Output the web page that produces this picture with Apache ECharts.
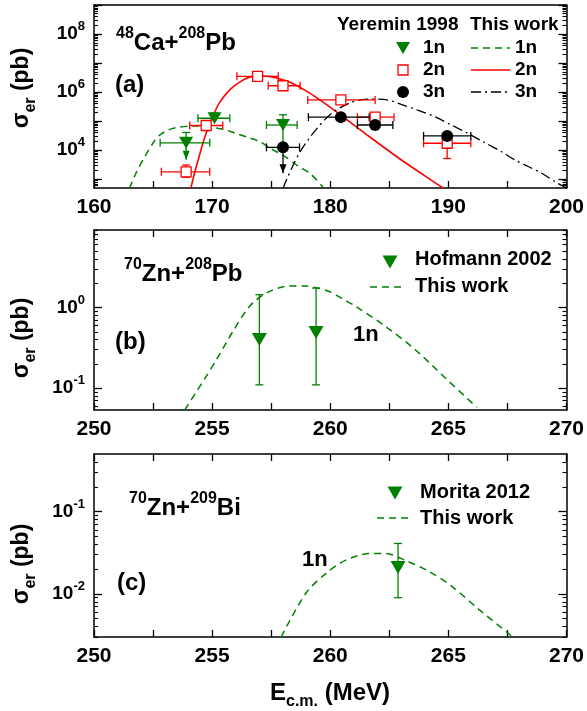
<!DOCTYPE html>
<html lang="en">
<head>
<meta charset="UTF-8">
<title>sigma_er vs Ec.m.</title>
<script src="https://cdn.jsdelivr.net/npm/echarts@6/dist/echarts.min.js"></script>
<style>
  html, body { margin: 0; padding: 0; background: #fff; }
  #main { width: 587px; height: 711px; }
</style>
</head>
<body>
<div id="main"></div>
<script>
// ---------- (a) 48Ca+208Pb : Yeremin 1998 (pb) ----------
var yer1nE    = [167.8, 170.2, 176.0];
var yer1nS    = [1.8e4, 1.26e5, 7.4e4];
var yer1nELo  = [165.6, 168.8, 174.6];
var yer1nEHi  = [169.8, 171.5, 177.2];
var yer1nSLo  = [4.7e3, 1.26e5, 1.26e4];
var yer1nSHi  = [4.1e4, 1.9e5, 1.66e5];
var yer1nArr  = [1, 0, 0];

var yer2nE    = [167.8, 169.5, 173.85, 176.0, 180.9, 183.8, 189.9];
var yer2nS    = [1.8e3, 7.1e4, 3.5e6, 1.66e6, 5.4e5, 1.38e5, 1.74e4];
var yer2nELo  = [165.7, 168.1, 172.1, 174.75, 178.1, 182.3, 187.9];
var yer2nEHi  = [169.8, 170.9, 175.6, 177.45, 183.8, 185.4, 191.9];
var yer2nSLo  = [1.17e3, 6.0e4, 3.2e6, 1.4e6, 4.6e5, 1.17e5, 5.2e3];
var yer2nSHi  = [3.1e3, 8.3e4, 3.8e6, 1.95e6, 6.3e5, 1.62e5, 3.4e4];

var yer3nE    = [176.0, 180.9, 183.8, 189.9];
var yer3nS    = [1.26e4, 1.38e5, 7.4e4, 3.1e4];
var yer3nELo  = [174.6, 178.15, 182.3, 187.9];
var yer3nEHi  = [177.4, 183.3, 185.3, 191.9];
var yer3nSLo  = [1.6e3, 1.38e5, 7.4e4, 3.1e4];
var yer3nSHi  = [1.26e4, 1.38e5, 7.4e4, 3.1e4];
var yer3nArr  = [1, 0, 0, 0];

// this work, (a)
var cal1nE = [163.0, 163.6, 164.3, 165.0, 165.5, 166.2, 167.0, 168.4, 169.8, 171.0, 172.0, 173.0, 174.0, 175.0, 176.3, 177.3, 178.3, 179.4];
var cal1nS = [490, 1780, 6000, 1.78e4, 3.16e4, 4.8e4, 6.0e4, 6.9e4, 6.3e4, 5.2e4, 3.8e4, 2.8e4, 2.0e4, 1.12e4, 5.6e3, 2.8e3, 1.58e3, 525];
var cal2nE = [168.2, 168.5, 168.9, 169.3, 169.8, 170.2, 170.6, 171.2, 171.8, 172.4, 172.9, 173.5, 174.0, 174.8, 175.5, 176.2, 176.9, 177.8, 178.6, 180.3, 183.1, 186.0, 189.6];
var cal2nS = [490, 1580, 6000, 2.24e4, 8.5e4, 2.0e5, 4.2e5, 8.9e5, 1.55e6, 2.3e6, 3.0e6, 3.5e6, 3.6e6, 3.5e6, 3.0e6, 2.5e6, 1.9e6, 1.2e6, 7.6e5, 2.45e5, 3.4e4, 4.7e3, 490];
var cal3nE = [176.0, 176.7, 177.45, 178.2, 178.9, 179.6, 180.3, 181.0, 181.8, 182.6, 183.4, 184.5, 185.3, 186.0, 187.4, 188.8, 190.2, 191.6, 193.0, 194.5, 195.6, 196.8, 197.9, 199.3, 200.0];
var cal3nS = [490, 2240, 8900, 2.5e4, 5.75e4, 1.2e5, 2.14e5, 3.16e5, 4.5e5, 5.4e5, 5.75e5, 5.6e5, 4.8e5, 3.8e5, 2.4e5, 1.45e5, 7.6e4, 3.9e4, 1.9e4, 8.9e3, 4.7e3, 2.7e3, 1.62e3, 710, 500];

// ---------- (b) 70Zn+208Pb : Hofmann 2002 ----------
var hofE   = [257.0, 259.4];
var hofS   = [0.40, 0.49];
var hofSLo = [0.11, 0.11];
var hofSHi = [1.44, 1.74];
var calBE = [253.84, 254.75, 255.18, 255.88, 256.58, 257.29, 258.2, 258.9, 259.4, 259.96, 260.5, 261.08, 262.35, 263.6, 264.88, 266.2];
var calBS = [0.054, 0.14, 0.225, 0.505, 1.03, 1.51, 1.84, 1.85, 1.76, 1.58, 1.29, 1.03, 0.58, 0.30, 0.133, 0.058];

// ---------- (c) 70Zn+209Bi : Morita 2012 ----------
var morE   = [262.87];
var morS   = [0.021];
var morSLo = [0.009];
var morSHi = [0.041];
var calCE = [257.92, 258.97, 259.82, 260.66, 261.65, 262.35, 263.2, 264.2, 265.16, 266.29, 267.55, 267.75];
var calCS = [0.0030, 0.0102, 0.0178, 0.0257, 0.0309, 0.0309, 0.0254, 0.0186, 0.0123, 0.0065, 0.0033, 0.00295];

var FONT = '"Liberation Sans", Arial, sans-serif';
var GREEN = '#008000', RED = '#ff0000', BLACK = '#000000';
var lg = Math.log10;

// panel layout
var panels = [
  { top: 5,   height: 183, xMin: 160, xMax: 200, xStep: 5,   xLab: 10, yMin: 2.7,  yMax: 9.0,  yLab: [4, 6, 8],  topTicks: false },
  { top: 230, height: 180, xMin: 250, xMax: 270, xStep: 2.5, xLab: 5,  yMin: -1.27, yMax: 0.96, yLab: [-1, 0],  topTicks: true },
  { top: 454, height: 183, xMin: 250, xMax: 270, xStep: 2.5, xLab: 5,  yMin: lg(0.003), yMax: lg(0.5), yLab: [-2, -1], topTicks: true }
];

function majorTicks(lo, hi) {
  var out = [];
  for (var d = Math.ceil(lo - 1e-9); d <= hi + 1e-9; d++) out.push(d);
  return out;
}
function minorTicks(lo, hi) {
  var out = [];
  for (var d = Math.floor(lo); d <= Math.ceil(hi); d++) {
    for (var m = 2; m <= 9; m++) {
      var v = d + lg(m);
      if (v >= lo - 1e-9 && v <= hi + 1e-9) out.push(v);
    }
  }
  return out;
}

var axLine = { show: true, onZero: false, lineStyle: { color: '#000', width: 1.5 } };
var grids = [], xAxes = [], yAxes = [];
panels.forEach(function (p, i) {
  grids.push({ left: 94, width: 473, top: p.top, height: p.height });
  xAxes.push({
    gridIndex: i, type: 'value', position: 'bottom', min: p.xMin, max: p.xMax, interval: p.xStep,
    axisLine: axLine, splitLine: { show: false },
    axisTick: { inside: true, length: 7, lineStyle: { color: '#000', width: 1.3 } },
    axisLabel: {
      margin: 9, color: '#000', fontSize: 21, fontWeight: 'bold', fontFamily: FONT,
      formatter: function (v) { return Math.abs(v % p.xLab) < 1e-6 ? String(v) : ''; }
    }
  });
  xAxes.push({
    gridIndex: i, type: 'value', position: 'top', min: p.xMin, max: p.xMax, interval: p.xStep,
    axisLine: axLine, splitLine: { show: false }, axisLabel: { show: false },
    axisTick: { show: p.topTicks, inside: true, length: 7, lineStyle: { color: '#000', width: 1.3 } }
  });
  ['left', 'right'].forEach(function (pos) {
    yAxes.push({
      gridIndex: i, type: 'value', position: pos, min: p.yMin, max: p.yMax,
      axisLine: axLine, splitLine: { show: false },
      axisTick: { inside: true, length: 8, customValues: majorTicks(p.yMin, p.yMax), lineStyle: { color: '#000', width: 1.3 } },
      axisLabel: {
        show: pos === 'left', customValues: p.yLab, margin: 9, color: '#000',
        formatter: function (v) { return '{b|10}{s|' + Math.round(v) + '}'; },
        rich: {
          b: { fontSize: 19, fontWeight: 'bold', fontFamily: FONT, color: '#000', lineHeight: 28 },
          s: { fontSize: 13, fontWeight: 'bold', fontFamily: FONT, color: '#000', lineHeight: 13, verticalAlign: 'top' }
        }
      }
    });
    yAxes.push({
      gridIndex: i, type: 'value', position: pos, min: p.yMin, max: p.yMax,
      axisLine: { show: false, onZero: false }, splitLine: { show: false }, axisLabel: { show: false },
      axisTick: { inside: true, length: 4, customValues: minorTicks(p.yMin, p.yMax), lineStyle: { color: '#000', width: 1.1 } }
    });
  });
});

function curve(E, S) { return E.map(function (e, i) { return [e, lg(S[i])]; }); }

function lineSeries(pi, E, S, color, dash, width) {
  return {
    type: 'line', xAxisIndex: 2 * pi, yAxisIndex: 4 * pi, data: curve(E, S),
    showSymbol: false, smooth: 0.3, clip: true, z: 3, silent: true,
    lineStyle: { color: color, width: width || 1.5, type: dash || 'solid' }
  };
}

function errSeries(pi, color, E, S, eLo, eHi, sLo, sHi, arr) {
  var data = E.map(function (e, i) {
    return [e, lg(S[i]), eLo ? eLo[i] : e, eHi ? eHi[i] : e, lg(sLo[i]), lg(sHi[i]), arr ? arr[i] : 0];
  });
  return {
    type: 'custom', xAxisIndex: 2 * pi, yAxisIndex: 4 * pi, data: data, clip: true, z: 4, silent: true,
    encode: { x: 0, y: 1 },
    renderItem: function (params, api) {
      var c = api.coord([api.value(0), api.value(1)]);
      var l = api.coord([api.value(2), api.value(1)]);
      var r = api.coord([api.value(3), api.value(1)]);
      var b = api.coord([api.value(0), api.value(4)]);
      var t = api.coord([api.value(0), api.value(5)]);
      var st = { stroke: color, lineWidth: 1.3 };
      function seg(x1, y1, x2, y2) { return { type: 'line', shape: { x1: x1, y1: y1, x2: x2, y2: y2 }, style: st }; }
      var k = [];
      if (r[0] - l[0] > 1) {
        k.push(seg(l[0], c[1], r[0], c[1]), seg(l[0], c[1] - 4, l[0], c[1] + 4), seg(r[0], c[1] - 4, r[0], c[1] + 4));
      }
      k.push(seg(c[0], t[1], c[0], b[1]));
      if (c[1] - t[1] > 1) k.push(seg(c[0] - 4, t[1], c[0] + 4, t[1]));
      if (api.value(6)) {
        k.push({ type: 'polygon', shape: { points: [[c[0] - 3.5, b[1] - 9], [c[0] + 3.5, b[1] - 9], [c[0], b[1]]] }, style: { fill: color } });
      } else if (b[1] - c[1] > 1) {
        k.push(seg(c[0] - 4, b[1], c[0] + 4, b[1]));
      }
      return { type: 'group', children: k };
    }
  };
}

function markSeries(pi, E, S, symbol, size, style, rotate) {
  return {
    type: 'scatter', xAxisIndex: 2 * pi, yAxisIndex: 4 * pi, data: curve(E, S), clip: true, z: 5, silent: true,
    symbol: symbol, symbolSize: size, symbolRotate: rotate || 0, itemStyle: Object.assign({ opacity: 1 }, style)
  };
}

var series = [
  lineSeries(0, cal1nE, cal1nS, GREEN, [7, 5], 1.5),
  lineSeries(0, cal2nE, cal2nS, RED, 'solid', 1.6),
  lineSeries(0, cal3nE, cal3nS, BLACK, [10, 4, 2, 4], 1.3),
  errSeries(0, RED, yer2nE, yer2nS, yer2nELo, yer2nEHi, yer2nSLo, yer2nSHi),
  errSeries(0, BLACK, yer3nE, yer3nS, yer3nELo, yer3nEHi, yer3nSLo, yer3nSHi, yer3nArr),
  errSeries(0, GREEN, yer1nE, yer1nS, yer1nELo, yer1nEHi, yer1nSLo, yer1nSHi, yer1nArr),
  markSeries(0, yer2nE, yer2nS, 'rect', 10, { color: '#fff', borderColor: RED, borderWidth: 1.3 }),
  markSeries(0, yer3nE, yer3nS, 'circle', 12, { color: BLACK }),
  markSeries(0, yer1nE, yer1nS, 'triangle', [14, 12], { color: GREEN }, 180),

  lineSeries(1, calBE, calBS, GREEN, [7, 5], 1.5),
  errSeries(1, GREEN, hofE, hofS, null, null, hofSLo, hofSHi),
  markSeries(1, hofE, hofS, 'triangle', [15, 13], { color: GREEN }, 180),

  lineSeries(2, calCE, calCS, GREEN, [7, 5], 1.5),
  errSeries(2, GREEN, morE, morS, null, null, morSLo, morSHi),
  markSeries(2, morE, morS, 'triangle', [15, 13], { color: GREEN }, 180)
];

// ---------- annotations ----------
function txt(x, y, text, size, extra, rot) {
  return { type: 'text', x: x, y: y, z: 10, rotation: rot || 0, style: Object.assign({
    text: text, fontSize: size, fontWeight: 'bold', fontFamily: FONT, fill: '#000',
    align: 'left', verticalAlign: 'middle' }, extra || {}) };
}
function richTxt(x, y, text, base, small, mode, extra, rot) {
  var sm = { fontSize: small, fontWeight: 'bold', fontFamily: FONT, fill: '#000', lineHeight: small - 2, verticalAlign: mode };
  return txt(x, y, text, base, Object.assign({
    rich: {
      b: { fontSize: base, fontWeight: 'bold', fontFamily: FONT, fill: '#000', lineHeight: base + 10 },
      s: sm
    }
  }, extra || {}), rot);
}
function dash(x1, x2, y, color, pattern, w) {
  return { type: 'line', z: 10, shape: { x1: x1, y1: y, x2: x2, y2: y }, style: { stroke: color, lineWidth: w || 1.5, lineDash: pattern } };
}
function downTri(x, y, w, h, color) {
  return { type: 'polygon', z: 10, shape: { points: [[x - w / 2, y - h / 2], [x + w / 2, y - h / 2], [x, y + h / 2]] }, style: { fill: color } };
}

var UP = Math.PI / 2;
var graphics = [
  // y titles
  richTxt(22, 88, '{b|σ}{s|er}{b| (pb)}', 23, 16, 'bottom', { align: 'center' }, UP),
  richTxt(22, 338, '{b|σ}{s|er}{b| (pb)}', 23, 16, 'bottom', { align: 'center' }, UP),
  richTxt(22, 564, '{b|σ}{s|er}{b| (pb)}', 23, 16, 'bottom', { align: 'center' }, UP),
  // x title
  richTxt(330, 693, '{b|E}{s|c.m.}{b| (MeV)}', 24, 16, 'bottom', { align: 'center' }),
  // reaction labels
  richTxt(116, 43, '{s|48}{b|Ca+}{s|208}{b|Pb}', 24, 16, 'top'),
  richTxt(124, 274, '{s|70}{b|Zn+}{s|208}{b|Pb}', 24, 16, 'top'),
  richTxt(129, 508, '{s|70}{b|Zn+}{s|209}{b|Bi}', 24, 16, 'top'),
  txt(115, 85, '(a)', 24),
  txt(115, 342, '(b)', 24),
  txt(117, 583, '(c)', 24),
  txt(353, 335, '1n', 22),
  txt(302, 560, '1n', 22),
  // legend (a)
  txt(337, 25, 'Yeremin 1998', 19),
  txt(470, 25, 'This work', 19),
  downTri(403, 48, 14, 12, GREEN),
  { type: 'rect', z: 10, shape: { x: 398, y: 65, width: 10, height: 10 }, style: { fill: '#fff', stroke: RED, lineWidth: 1.3 } },
  { type: 'circle', z: 10, shape: { cx: 403, cy: 92, r: 6 }, style: { fill: BLACK } },
  txt(423, 48, '1n', 19), txt(423, 70, '2n', 19), txt(423, 92, '3n', 19),
  dash(471, 510, 48, GREEN, [7, 5]),
  dash(471, 510, 70, RED, null, 1.6),
  dash(471, 510, 92, BLACK, [10, 4, 2, 4], 1.3),
  txt(515, 48, '1n', 19), txt(515, 70, '2n', 19), txt(515, 92, '3n', 19),
  // legend (b)
  downTri(390, 262, 15, 13, GREEN),
  txt(415, 259, 'Hofmann 2002', 20),
  dash(370, 405, 287, GREEN, [7, 5]),
  txt(415, 286, 'This work', 20),
  // legend (c)
  downTri(395, 493, 15, 13, GREEN),
  txt(420, 492, 'Morita 2012', 20),
  dash(377, 412, 518, GREEN, [7, 5]),
  txt(420, 518, 'This work', 20)
];

var myChart = echarts.init(document.getElementById('main'), null, { renderer: 'canvas' });
var option = {
  backgroundColor: '#fff',
  animation: false,
  grid: grids,
  xAxis: xAxes,
  yAxis: yAxes,
  series: series,
  graphic: graphics
};
myChart.setOption(option);
</script>
</body>
</html>
